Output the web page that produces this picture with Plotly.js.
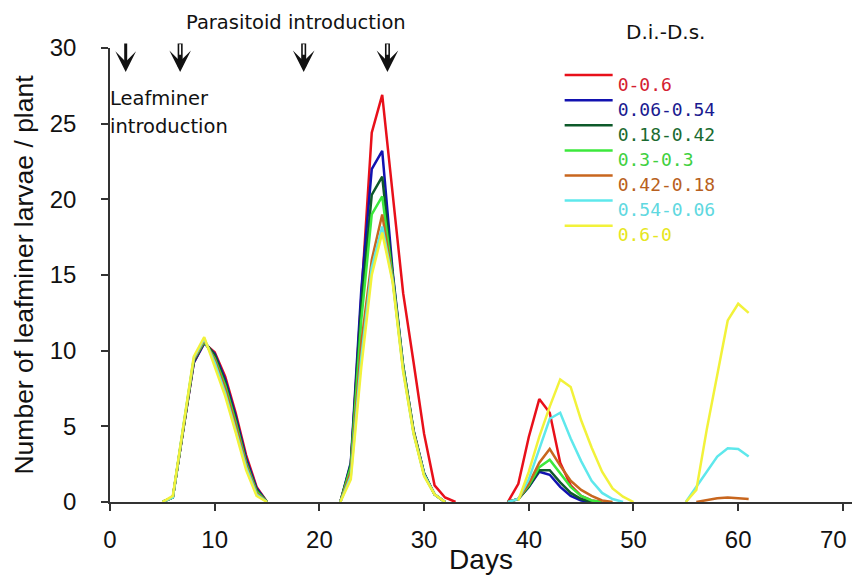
<!DOCTYPE html>
<html><head><meta charset="utf-8">
<script src="https://cdn.plot.ly/plotly-3.0.1.min.js"></script>
<style>html,body{margin:0;padding:0;background:#fff}</style>
</head><body><div id="chart" style="width:854px;height:575px"></div>
<script>
// Days of observation (null separates the four outbreak episodes)
const days = [5,6,7,8,9,10,11,12,13,14,15, null,
  22,23,24,25,26,27,28,29,30,31,32,33, null,
  38,39,40,41,42,43,44,45,46,47,48,49,50,51, null,
  55,56,57,58,59,60,61];

const seriesNames = ['0-0.6','0.06-0.54','0.18-0.42','0.3-0.3','0.42-0.18','0.54-0.06','0.6-0'];

const s_0_06 = [0,0.3,4.8,9.2,10.5,9.9,8.3,5.9,3.1,1.0,0, null,
  0,2.4,13.5,24.4,26.9,20.2,13.8,9.2,4.5,1.1,0.3,0, null,
  0,1.2,4.3,6.8,5.9,2.6,1.1,0.4,0.1,0,null,null,null,null, null,
  null,null,null,null,null,null,null];
const s_006_054 = [0,0.3,4.8,9.2,10.5,9.8,8.1,5.7,2.9,0.9,0, null,
  0,2.6,14.0,22.0,23.2,15.2,9.0,4.7,1.9,0.5,0,null, null,
  0,0.2,1.0,2.0,1.8,1.0,0.4,0.1,0,null,null,null,null,null, null,
  null,null,null,null,null,null,null];
const s_018_042 = [0,0.3,4.8,9.3,10.6,9.7,7.9,5.5,2.7,0.8,0, null,
  0,2.5,13.0,20.3,21.5,15.0,9.0,4.7,1.9,0.5,0,null, null,
  0,0.2,1.0,2.1,2.1,1.3,0.6,0.2,0,null,null,null,null,null, null,
  null,null,null,null,null,null,null];
const s_03_03 = [0,0.3,4.9,9.4,10.6,9.5,7.7,5.3,2.6,0.7,0, null,
  0,2.3,12.0,19.0,20.2,14.8,8.9,4.6,1.8,0.5,0,null, null,
  0,0.2,1.1,2.3,2.8,1.9,1.0,0.4,0.1,0,null,null,null,null, null,
  null,null,null,null,null,null,null];
const s_042_018 = [0,0.3,4.9,9.4,10.7,9.4,7.5,5.1,2.5,0.6,0, null,
  0,2.0,10.5,16.0,19.0,14.7,8.8,4.6,1.8,0.5,0,null, null,
  0,0.2,1.2,2.6,3.5,2.4,1.4,0.8,0.4,0.1,0,null,null,null, null,
  null,0,0.15,0.25,0.3,0.25,0.2];
const s_054_006 = [0,0.3,5.0,9.5,10.8,9.2,7.2,4.8,2.3,0.5,0, null,
  0,1.7,9.5,15.5,18.2,14.6,8.7,4.5,1.8,0.5,0,null, null,
  0,0.2,1.5,3.5,5.5,5.9,4.2,2.7,1.4,0.6,0.2,0,null,null, null,
  0,1.0,2.0,3.0,3.55,3.5,3.0];
const s_06_0 = [0,0.4,5.0,9.6,10.9,9.0,7.0,4.6,2.1,0.4,0, null,
  0,1.5,8.9,15.0,17.8,14.5,8.6,4.5,1.7,0.5,0,null, null,
  null,0.1,2.0,4.3,6.3,8.1,7.6,5.4,3.6,2.0,0.9,0.35,0,null, null,
  0,0.8,4.8,8.5,12.0,13.1,12.5];

const seriesValues = [s_0_06, s_006_054, s_018_042, s_03_03, s_042_018, s_054_006, s_06_0];
const lineColors = ['#e8101a','#1212b0','#0e5a2a','#3ce83c','#c8661e','#5ee8ec','#f2f23a'];
const textColors = ['#d42030','#1a1a90','#1a6a30','#40d040','#b86020','#60d8e0','#e6e620'];

// x tick labels (the last one is drawn nudged inside the picture, as in the original)
const xTickVals = [0,10,20,30,40,50,60,70];
const xTickText = ['0','10','20','30','40','50','60',''];
const lastXTickLabel = '70';

// Introduction arrows (days)
const arrowDays = [1.5, 6.7, 18.5, 26.5];
const arrowKinds = ['solid','double','double','double'];

const traces = seriesNames.map((n, i) => ({
  type: 'scatter', mode: 'lines', x: days, y: seriesValues[i],
  connectgaps: false,
  name: '<span style="color:' + textColors[i] + ';font-size:18px;baseline-shift:-9px">' + n + '</span>',
  line: {color: lineColors[i], width: 2.5},
  hoverinfo: 'x+y'
}));

const tickFont = {family: 'Liberation Sans, Arial, sans-serif', size: 24, color: '#111'};
const annoFont = {family: 'DejaVu Sans, sans-serif', size: 19.5, color: '#111'};
const annotations = [
  {text: 'Parasitoid introduction', xref: 'paper', yref: 'paper', x: 0.2513, y: 1.057,
   showarrow: false, xanchor: 'center', yanchor: 'middle', font: annoFont},
  {text: 'Leafminer', xref: 'paper', yref: 'paper', x: -0.003, y: 0.888,
   showarrow: false, xanchor: 'left', yanchor: 'middle', font: annoFont},
  {text: 'introduction', xref: 'paper', yref: 'paper', x: -0.003, y: 0.828,
   showarrow: false, xanchor: 'left', yanchor: 'middle', font: annoFont},
  {text: 'D.i.-D.s.', xref: 'paper', yref: 'paper', x: 0.7487, y: 1.035,
   showarrow: false, xanchor: 'center', yanchor: 'middle',
   font: {family: 'DejaVu Sans, sans-serif', size: 20, color: '#111'}},
  {text: lastXTickLabel, xref: 'paper', yref: 'paper', x: 0.9757, y: -0.0815,
   showarrow: false, xanchor: 'center', yanchor: 'middle', font: tickFont}
];
arrowDays.forEach((d, i) => {
  if (arrowKinds[i] === 'solid') {
    annotations.push({text: '', x: d, xref: 'x', y: 0.947, yref: 'paper',
      ax: 0, ay: -30, showarrow: true, arrowhead: 3, arrowsize: 1.15, arrowwidth: 3, arrowcolor: '#111'});
  } else {
    annotations.push({text: '', x: d, xref: 'x', y: 0.947, yref: 'paper',
      ax: 0, ay: -30, showarrow: true, arrowhead: 3, arrowsize: 0.72, arrowwidth: 5, arrowcolor: '#111'});
    annotations.push({text: '', x: d, xref: 'x', y: 0.985, yref: 'paper',
      ax: 0, ay: -12, showarrow: true, arrowhead: 0, arrowwidth: 1.8, arrowcolor: '#fff'});
  }
});

const layout = {
  width: 854, height: 575,
  margin: {l: 110, r: 2, t: 48, b: 73},
  paper_bgcolor: '#fff', plot_bgcolor: '#fff',
  showlegend: true,
  legend: {x: 0.606, y: 0.979, xanchor: 'left', yanchor: 'top', bgcolor: 'rgba(0,0,0,0)',
    itemwidth: 48,
    font: {family: 'DejaVu Sans Mono, monospace', size: 17, color: '#111'},
    tracegroupgap: 0},
  xaxis: {range: [0, 70.87], tickvals: xTickVals, ticktext: xTickText, showgrid: false, zeroline: false,
    showline: true, linecolor: '#333', linewidth: 1.6, ticks: 'outside', ticklen: 7, tickwidth: 1.6, tickcolor: '#333',
    tickfont: tickFont, ticklabelstandoff: 8,
    title: {text: 'Days', font: {family: 'Liberation Sans, Arial, sans-serif', size: 28, color: '#111'}, standoff: 3}},
  yaxis: {range: [0, 30], dtick: 5, tick0: 0, showgrid: false, zeroline: false,
    showline: true, linecolor: '#333', linewidth: 1.6, ticks: 'outside', ticklen: 7, tickwidth: 1.6, tickcolor: '#333',
    tickfont: tickFont, ticklabelstandoff: 20,
    title: {text: 'Number of leafminer larvae / plant', font: {family: 'Liberation Sans, Arial, sans-serif', size: 26.5, color: '#111'}, standoff: 8}},
  annotations: annotations
};

Plotly.newPlot('chart', traces, layout, {displayModeBar: false, responsive: false});
</script></body></html>
